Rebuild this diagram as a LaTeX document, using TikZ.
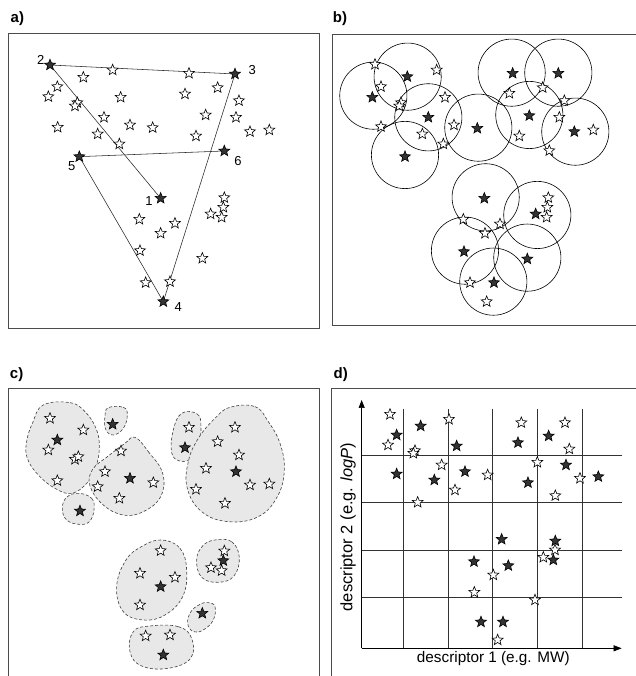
\documentclass[tikz,border=0pt]{standalone}
\usepackage{fontspec}
\setmainfont{Liberation Sans}
\usetikzlibrary{shapes.geometric,arrows.meta}
\begin{document}
\begin{tikzpicture}[x=1pt,y=-1pt,
  ostar/.style={star, star points=5, star point ratio=2.3, minimum size=11.5pt, inner sep=0pt, draw=black, line width=0.6pt, fill=white},
  fstar/.style={ostar, fill=black!80},
  frame/.style={draw=black!70, line width=0.8pt},
  plbl/.style={font=\bfseries\fontsize{15}{17}\selectfont, inner sep=0pt},
  num/.style={font=\fontsize{13}{15}\selectfont, inner sep=0pt},
  blob/.style={draw=black!75, dash pattern=on 3pt off 2pt, fill=black!9, line width=0.6pt},
  circ/.style={draw=black, line width=0.6pt},
  grid line/.style={draw=black!80, line width=0.6pt},
  conn/.style={draw=black!85, line width=0.55pt}]
\useasboundingbox (0,0) rectangle (635,676);
\fill[white] (0,0) rectangle (635,676);

% ---------------- panel a ----------------
\begin{scope}[x=0.3333pt,y=-0.3333pt]
  \draw[frame] (25,100) rectangle (957,985);
  \node[plbl] (la) at (52,57) {a)};
  \coordinate (p1) at (482,595);
  \coordinate (p2) at (150,195);
  \coordinate (p3) at (705,222);
  \coordinate (p4) at (490,905);
  \coordinate (p5) at (238,470);
  \coordinate (p6) at (673,453);
  \draw[conn] (p2) -- (p3) -- (p4) -- (p5) -- (p6);
  \draw[conn] (p2) -- (p1);
  \foreach \x/\y [count=\i] in {338/210,567/220,250/232,172/260,145/290,362/292,555/282,653/263,717/302,232/308,225/318,312/352,390/375,458/383,617/345,708/352,173/382,293/402,588/408,750/395,808/390,358/432,673/593,670/622,632/642,665/652,418/658,525/670,482/700,420/752,607/775,437/848,510/845}
    \node[ostar] (ao\i) at (\x,\y) {};
  \foreach \i in {1,...,6} \node[fstar] (af\i) at (p\i) {};
  \node[num] (n1) at (447,602) {1};
  \node[num] (n2) at (122,180) {2};
  \node[num] (n3) at (757,210) {3};
  \node[num] (n4) at (535,920) {4};
  \node[num] (n5) at (215,497) {5};
  \node[num] (n6) at (714,482) {6};
\end{scope}

% ---------------- panel b ----------------
\begin{scope}[shift={(320,0)},x=0.3333pt,y=-0.3333pt]
  \draw[frame] (960,103) -- (37,103) -- (37,975) -- (960,975);
  \node[plbl] (lb) at (60,55) {b)};
  \foreach \x/\y in {160/287,263/230,325/352,255/465,475/383,575/218,715/218,628/345,766/395,497/592,652/645,435/752,622/773,520/845}
    \draw[circ] (\x,\y) circle[radius=33.6pt];
  \foreach \x/\y [count=\i] in {165/193,350/210,183/260,375/292,243/308,238/318,183/380,307/402,402/375,370/432,568/280,668/263,733/302,718/352,598/408,820/390,688/452,685/593,682/622,680/652,430/658,540/672,495/700,450/848,500/905}
    \node[ostar] (bo\i) at (\x,\y) {};
  \foreach \x/\y [count=\i] in {262/230,157/292,325/352,255/470,472/385,578/220,715/220,628/347,763/395,493/595,647/642,432/755,622/777,522/848}
    \node[fstar] (bf\i) at (\x,\y) {};
\end{scope}

% ---------------- panel c ----------------
\begin{scope}[shift={(0,330)},x=0.3333pt,y=-0.3333pt]
  \draw[frame] (25,1060) -- (25,175) -- (957,175) -- (957,1060);
  \node[plbl] (lc) at (50,133) {c)};
  \draw[blob] plot[smooth cycle, tension=0.7] coordinates {(130,225) (210,218) (255,245) (288,295) (298,350) (288,410) (262,458) (215,490) (165,475) (115,435) (82,385) (80,335) (98,278)};
  \draw[blob] plot[smooth cycle, tension=0.7] coordinates {(325,233) (370,232) (382,255) (370,295) (340,315) (317,298) (315,258)};
  \draw[blob] plot[smooth cycle, tension=0.7] coordinates {(405,322) (445,365) (488,430) (482,500) (430,545) (370,555) (310,525) (270,468) (278,418) (325,378) (375,340)};
  \draw[blob] plot[smooth cycle, tension=0.7] coordinates {(235,490) (275,505) (282,540) (268,575) (238,583) (200,570) (187,535) (200,502)};
  \draw[blob] plot[smooth cycle, tension=0.7] coordinates {(545,250) (592,252) (603,290) (596,345) (575,385) (540,393) (515,368) (520,300)};
  \draw[blob] plot[smooth cycle, tension=0.7] coordinates {(690,232) (765,230) (805,275) (840,340) (853,420) (832,500) (775,560) (685,575) (605,545) (562,475) (565,395) (595,325) (645,265)};
  \draw[blob] plot[smooth cycle, tension=0.7] coordinates {(485,630) (540,655) (560,720) (548,800) (495,855) (430,870) (370,845) (350,770) (378,690) (428,648)};
  \draw[blob] plot[smooth cycle, tension=0.7] coordinates {(645,630) (695,635) (718,682) (702,738) (655,757) (605,742) (590,690) (608,648)};
  \draw[blob] plot[smooth cycle, tension=0.7] coordinates {(625,818) (645,830) (640,870) (610,900) (580,905) (563,880) (573,845) (600,823)};
  \draw[blob] plot[smooth cycle, tension=0.7] coordinates {(450,888) (535,890) (575,925) (572,985) (505,1015) (425,1008) (390,965) (400,905)};
  \foreach \x/\y [count=\i] in {150/265,250/300,145/360,225/388,235/380,172/452,363/363,315/425,293/470,460/458,358/505,567/292,705/292,653/335,717/375,618/415,750/465,808/462,588/478,675/520,482/662,420/730,525/742,420/825,673/663,633/713,665/722,437/918,510/915}
    \node[ostar] (co\i) at (\x,\y) {};
  \foreach \x/\y [count=\i] in {172/330,338/283,390/445,240/543,555/353,708/425,482/770,670/692,607/850,490/975}
    \node[fstar] (cf\i) at (\x,\y) {};
\end{scope}

% ---------------- panel d ----------------
\begin{scope}[shift={(320,330)},x=0.3333pt,y=-0.3333pt]
  \draw[frame] (35,1060) -- (35,175) -- (960,175);
  \node[plbl] (ld) at (62,133) {d)};
  \foreach \x in {250,385,518,653,788} \draw[grid line] (\x,237) -- (\x,955);
  \foreach \y in {377,518,660,802} \draw[grid line] (125,\y) -- (905,\y);
  \coordinate (orig) at (125,955);
  \coordinate (ytip) at (125,210);
  \coordinate (xtip) at (905,955);
  \draw[line width=0.7pt, -{Triangle[length=8pt,width=6pt]}] (orig) -- (ytip);
  \draw[line width=0.7pt, -{Triangle[length=8pt,width=6pt]}] (orig) -- (xtip);
  \node[font=\fontsize{15.3}{17}\selectfont, inner sep=0pt] (xl) at (520,987) {descriptor 1 (e.g. MW)};
  \node[font=\fontsize{16.5}{18}\selectfont, inner sep=0pt, rotate=90] (yl) at (84,591) {descriptor 2 (e.g. \textit{logP})};
  \foreach \x/\y [count=\i] in {210/253,387/268,204/345,285/362,280/370,365/405,405/480,293/517,503/435,604/278,735/278,748/357,652/397,780/445,706/497,705/660,670/682,520/735,463/787,645/810,533/930}
    \node[ostar] (do\i) at (\x,\y) {};
  \foreach \x/\y [count=\i] in {230/315,302/288,230/432,410/348,343/450,435/425,594/338,686/318,738/405,624/458,835/440,545/628,706/633,462/695,565/707,700/690,483/876,549/876}
    \node[fstar] (df\i) at (\x,\y) {};
\end{scope}
\end{tikzpicture}
\end{document}
